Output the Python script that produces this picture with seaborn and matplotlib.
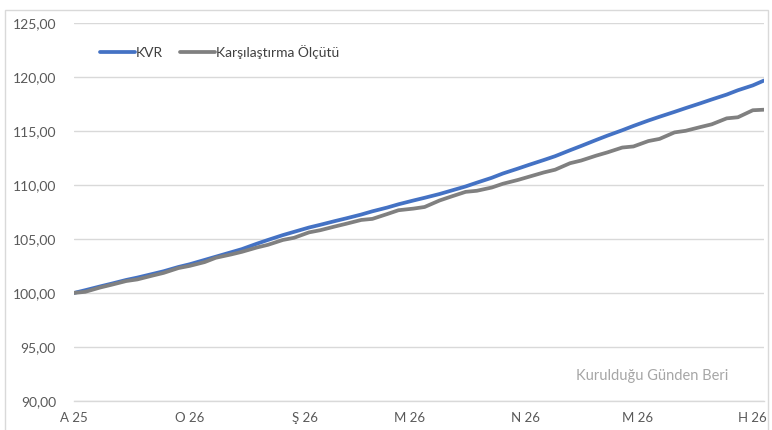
import matplotlib
matplotlib.use("Agg")
import matplotlib.pyplot as plt
from matplotlib.patches import Rectangle
import seaborn as sns
import pandas as pd

# ---- data ----
day_offsets = [0, 3, 7, 10, 14, 17, 21, 24, 28, 31, 35, 38, 42, 45, 49, 52, 56, 59,
               63, 66, 70, 73, 77, 80, 84, 87, 91, 94, 98, 101, 105, 108, 112, 115,
               119, 122, 126, 129, 133, 136, 140, 143, 147, 150, 154, 157, 161, 164,
               168, 171, 175, 178, 182, 185]
kvr = [100.00, 100.25, 100.60, 100.85, 101.20, 101.42, 101.75, 102.00, 102.40, 102.65,
       103.05, 103.35, 103.75, 104.05, 104.55, 104.90, 105.35, 105.65, 106.05, 106.30,
       106.65, 106.90, 107.25, 107.55, 107.90, 108.20, 108.55, 108.80, 109.15, 109.45,
       109.85, 110.20, 110.65, 111.05, 111.50, 111.85, 112.30, 112.65, 113.20, 113.60,
       114.15, 114.55, 115.05, 115.45, 115.95, 116.30, 116.75, 117.10, 117.55, 117.90,
       118.35, 118.75, 119.20, 119.65]
benchmark = [100.00, 100.10, 100.50, 100.75, 101.10, 101.25, 101.60, 101.85, 102.30, 102.50,
             102.85, 103.25, 103.55, 103.80, 104.20, 104.45, 104.90, 105.10, 105.60, 105.80,
             106.15, 106.40, 106.75, 106.85, 107.30, 107.65, 107.80, 107.95, 108.55, 108.90,
             109.35, 109.45, 109.75, 110.10, 110.45, 110.75, 111.15, 111.40, 112.00, 112.25,
             112.70, 113.00, 113.45, 113.55, 114.05, 114.25, 114.85, 115.00, 115.35, 115.60,
             116.15, 116.25, 116.90, 116.95]
series_names = ["KVR", "Karşılaştırma Ölçütü"]
tick_dates = ["2025-12-01", "2026-01-01", "2026-02-01", "2026-03-01",
              "2026-04-01", "2026-05-01", "2026-06-01"]
tick_labels = ["A 25", "O 26", "Ş 26", "M 26", "N 26", "M 26", "H 26"]
y_ticks = [90, 95, 100, 105, 110, 115, 120, 125]
note_text = "Kurulduğu Günden Beri"

start = pd.Timestamp("2025-12-01")
dates = [start + pd.Timedelta(days=d) for d in day_offsets]
df = pd.DataFrame({
    "date": dates * 2,
    "value": kvr + benchmark,
    "series": [series_names[0]] * len(dates) + [series_names[1]] * len(dates),
})

sns.set_style("white")
plt.rcParams["font.family"] = ["Lato", "DejaVu Sans"]

W, H = 772, 430
fig = plt.figure(figsize=(W / 100, H / 100), dpi=100)
ax = fig.add_axes([74 / W, (H - 401) / H, 690 / W, (401 - 22.7) / H])

sns.lineplot(data=df, x="date", y="value", hue="series",
             palette={series_names[0]: "#4472C4", series_names[1]: "#808080"},
             linewidth=2.7, ax=ax, legend=True)

ax.set_xlim(start, start + pd.Timedelta(days=185))
ax.set_ylim(90, 125)
ax.set_yticks(y_ticks)
ax.set_yticklabels([f"{v:.2f}".replace(".", ",") for v in y_ticks],
                   color="#595959", fontsize=10)
ax.set_xticks([pd.Timestamp(d) for d in tick_dates])
ax.set_xticklabels(tick_labels, color="#595959", fontsize=9.5)
ax.tick_params(axis="y", length=0, pad=13)
ax.tick_params(axis="x", length=5, width=1, color="#d9d9d9", pad=3, direction="out")
ax.set_xlabel("")
ax.set_ylabel("")
ax.grid(axis="y", color="#d9d9d9", linewidth=1)
ax.set_axisbelow(True)
for s in ["top", "right", "left"]:
    ax.spines[s].set_visible(False)
ax.spines["bottom"].set_color("#d9d9d9")
ax.spines["bottom"].set_linewidth(1)

leg = ax.legend(loc="center left", bbox_to_anchor=(100 / W, (H - 52) / H),
                bbox_transform=fig.transFigure, ncol=2, frameon=False,
                borderpad=0, borderaxespad=0,
                handlelength=2.5, handletextpad=0.1, columnspacing=1.2,
                fontsize=10, title=None)
for t in leg.get_texts():
    t.set_color("#404040")

fig.text(652 / W, (H - 376) / H, note_text, ha="center", va="center",
         color="#a6a6a6", fontsize=10.5)

fig.patches.append(Rectangle((4.5 / W, -0.02), 763 / W, (H - 9.5) / H + 0.02,
                             transform=fig.transFigure, fill=False,
                             edgecolor="#d9d9d9", linewidth=1))

fig.savefig("out.png", dpi=100)
